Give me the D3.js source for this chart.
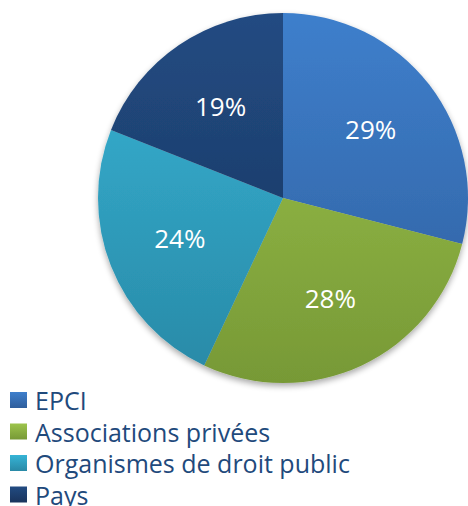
<!DOCTYPE html>
<html>
<head>
<meta charset="utf-8">
<script src="https://cdn.jsdelivr.net/npm/d3@7"></script>
<style>
  body { margin: 0; background: #fff; }
  text { font-family: "Open Sans", "Noto Sans", sans-serif; }
</style>
</head>
<body>
<div id="chart"></div>
<script>
const categories = ["EPCI", "Associations privées", "Organismes de droit public", "Pays"];
const values = [29, 28, 24, 19];
const colorsTop = ["#3e7fcc", "#9dc44c", "#36b4d6", "#224b82"];
const colorsBottom = ["#2f5e9c", "#779936", "#2989a6", "#19345c"];

const width = 468, height = 506;
const cx = 283, cy = 198, radius = 185;

const svg = d3.select("#chart").append("svg")
  .attr("width", width)
  .attr("height", height);

const defs = svg.append("defs");

// dégradés verticaux (sur tout le disque)
categories.forEach((c, i) => {
  const g = defs.append("linearGradient")
    .attr("id", "grad" + i)
    .attr("gradientUnits", "userSpaceOnUse")
    .attr("x1", 0).attr("y1", -radius)
    .attr("x2", 0).attr("y2", radius);
  g.append("stop").attr("offset", "0%").attr("stop-color", colorsTop[i]);
  g.append("stop").attr("offset", "100%").attr("stop-color", colorsBottom[i]);
});

const legendGrad = categories.map((c, i) => {
  const g = defs.append("linearGradient")
    .attr("id", "lgrad" + i)
    .attr("x1", 0).attr("y1", 0)
    .attr("x2", 0).attr("y2", 1);
  g.append("stop").attr("offset", "0%").attr("stop-color", colorsTop[i]);
  g.append("stop").attr("offset", "100%").attr("stop-color", colorsBottom[i]);
  return "url(#lgrad" + i + ")";
});

const filter = defs.append("filter")
  .attr("id", "shadow")
  .attr("x", "-10%").attr("y", "-10%")
  .attr("width", "120%").attr("height", "125%");
filter.append("feGaussianBlur").attr("in", "SourceAlpha").attr("stdDeviation", 3);
filter.append("feOffset").attr("dy", 3).attr("result", "blur");
filter.append("feComponentTransfer").append("feFuncA").attr("type", "linear").attr("slope", 0.35);
const merge = filter.append("feMerge");
merge.append("feMergeNode");
merge.append("feMergeNode").attr("in", "SourceGraphic");

const data = categories.map((c, i) => ({ label: c, value: values[i], idx: i }));

const pie = d3.pie().value(d => d.value).sort(null);
const arc = d3.arc().innerRadius(0).outerRadius(radius);
const labelArc = d3.arc().innerRadius(radius * 0.6).outerRadius(radius * 0.6);

const g = svg.append("g")
  .attr("transform", `translate(${cx}, ${cy})`)
  .attr("filter", "url(#shadow)");

g.selectAll("path")
  .data(pie(data))
  .join("path")
  .attr("d", arc)
  .attr("fill", d => "url(#grad" + d.data.idx + ")");

const total = d3.sum(values);
svg.append("g")
  .attr("transform", `translate(${cx}, ${cy})`)
  .selectAll("text")
  .data(pie(data))
  .join("text")
  .attr("transform", d => `translate(${labelArc.centroid(d)})`)
  .attr("dy", "0.36em")
  .attr("text-anchor", "middle")
  .attr("fill", "#fff")
  .style("font-size", "26px")
  .text(d => Math.round(d.data.value / total * 100) + "%");

// légende
const legend = svg.append("g").attr("transform", "translate(10, 392)");
const row = legend.selectAll("g")
  .data(data)
  .join("g")
  .attr("transform", (d, i) => `translate(0, ${i * 31.5})`);

row.append("rect")
  .attr("width", 17)
  .attr("height", 16)
  .attr("fill", d => legendGrad[d.idx]);

row.append("text")
  .attr("x", 25)
  .attr("y", 18)
  .attr("fill", "#1f4a7c")
  .style("font-size", "25px")
  .text(d => d.label);
</script>
</body>
</html>
